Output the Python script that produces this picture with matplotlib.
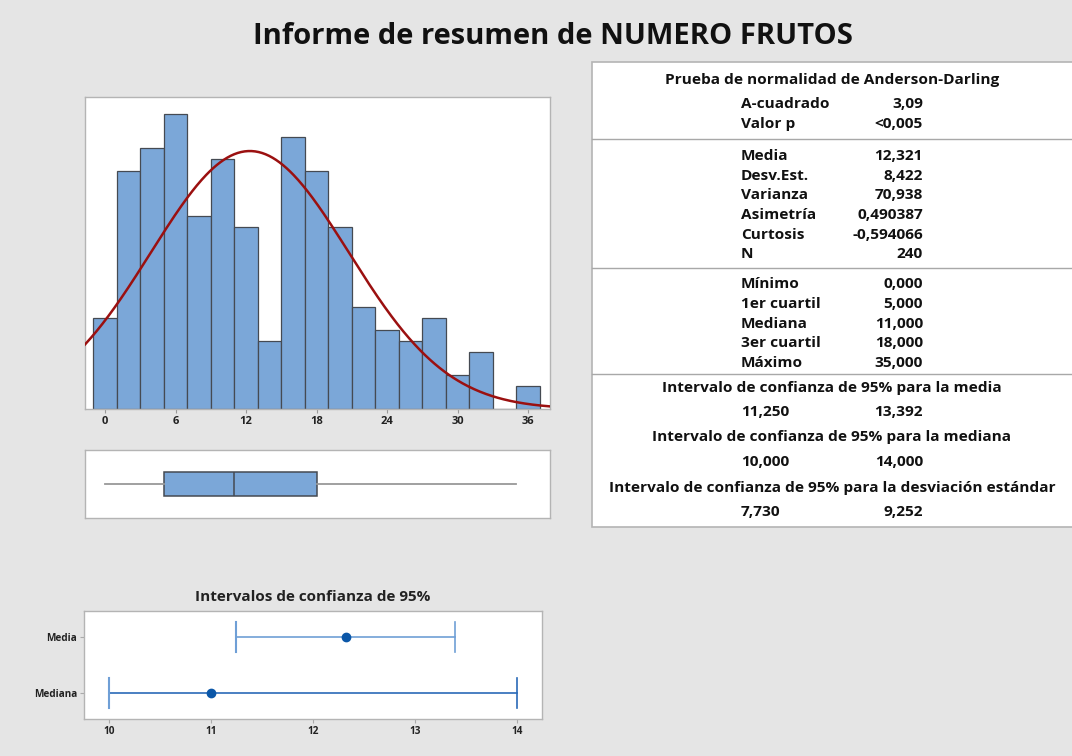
import numpy as np
import matplotlib
matplotlib.use("Agg")
import matplotlib.pyplot as plt
from matplotlib.patches import Rectangle
from matplotlib.lines import Line2D

plt.rcParams['font.family'] = ['Open Sans', 'DejaVu Sans']

# ---------------- data ----------------
bin_centers = [0, 2, 4, 6, 8, 10, 12, 14, 16, 18, 20, 22, 24, 26, 28, 30, 32, 34, 36]
bin_counts = [8, 21, 23, 26, 17, 22, 16, 6, 24, 21, 16, 9, 7, 6, 8, 3, 5, 0, 2]
bin_width = 2
hist_ticks = [0, 6, 12, 18, 24, 30, 36]

mean_val = 12.321
sd_val = 8.422
n_val = 240
box_min, box_q1, box_med, box_q3, box_max = 0.0, 5.0, 11.0, 18.0, 35.0

ci_labels = ["Media", "Mediana"]
ci_points = [12.321, 11.0]
ci_low = [11.250, 10.000]
ci_high = [13.392, 14.000]
ci_ticks = [10, 11, 12, 13, 14]

ad_rows = [("A-cuadrado", "3,09"), ("Valor p", "<0,005")]
desc_rows = [("Media", "12,321"), ("Desv.Est.", "8,422"), ("Varianza", "70,938"),
             ("Asimetría", "0,490387"), ("Curtosis", "-0,594066"), ("N", "240")]
quant_rows = [("Mínimo", "0,000"), ("1er cuartil", "5,000"), ("Mediana", "11,000"),
              ("3er cuartil", "18,000"), ("Máximo", "35,000")]
ci_sections = [("Intervalo de confianza de 95% para la media", ("11,250", "13,392")),
               ("Intervalo de confianza de 95% para la mediana", ("10,000", "14,000")),
               ("Intervalo de confianza de 95% para la desviación estándar", ("7,730", "9,252"))]

# ---------------- figure ----------------
W, H = 1072, 756
BG = "#e5e5e5"
BAR = "#7ba7d8"
EDGE = "#454a52"
FRAME = "#b4b4b4"
WT = "bold"

fig = plt.figure(figsize=(W / 100, H / 100), dpi=100, facecolor=BG)

def fx(px):
    return px / W

def fy(py):
    return 1 - py / H

def ax_rect(l, t, r, b):
    return [fx(l), fy(b), fx(r) - fx(l), fy(t) - fy(b)]

fig.text(fx(553), fy(37), "Informe de resumen de NUMERO FRUTOS", ha="center", va="center",
         fontsize=21, fontweight=WT, color="#111111")

xlim_main = (-1.7, 37.85)

# ---- histogram ----
ax = fig.add_axes(ax_rect(85, 97, 550, 409))
ax.set_facecolor("white")
ax.bar(bin_centers, bin_counts, width=bin_width, color=BAR, edgecolor=EDGE, linewidth=0.9, zorder=2)
xs = np.linspace(xlim_main[0], xlim_main[1], 400)
pdf = n_val * bin_width * np.exp(-0.5 * ((xs - mean_val) / sd_val) ** 2) / (sd_val * np.sqrt(2 * np.pi))
ax.plot(xs, pdf, color="#9b1010", linewidth=1.8, zorder=3)
ax.set_xlim(*xlim_main)
ax.set_ylim(0, 27.5)
ax.set_yticks([])
ax.set_xticks(hist_ticks)
ax.set_xticklabels([str(t) for t in hist_ticks], fontsize=8, fontweight=WT, color="#222222")
ax.tick_params(axis="x", length=3, color="#999999", pad=2)
for s in ax.spines.values():
    s.set_color(FRAME)
    s.set_linewidth(1)

# ---- boxplot ----
axb = fig.add_axes(ax_rect(85, 450, 550, 518))
axb.set_facecolor("white")
axb.bxp([{"whislo": box_min, "q1": box_q1, "med": box_med, "q3": box_q3, "whishi": box_max,
          "fliers": []}], vert=False, positions=[0], widths=0.68, patch_artist=True,
        showcaps=False,
        boxprops=dict(facecolor=BAR, edgecolor=EDGE, linewidth=1.1),
        medianprops=dict(color=EDGE, linewidth=1.1),
        whiskerprops=dict(color="#999999", linewidth=1.3))
axb.set_xlim(*xlim_main)
axb.set_ylim(-1, 1)
axb.set_xticks([])
axb.set_yticks([])
for s in axb.spines.values():
    s.set_color(FRAME)
    s.set_linewidth(1)

# ---- confidence intervals ----
axc = fig.add_axes(ax_rect(84.3, 610.7, 541.7, 719.3))
axc.set_facecolor("white")
ypos = [1, 0]
line_cols = ["#6f9fd6", "#2a6ab8"]
for y, p, lo, hi, lc in zip(ypos, ci_points, ci_low, ci_high, line_cols):
    axc.plot([lo, hi], [y, y], color=lc, linewidth=1.2, zorder=2)
    axc.plot([lo, lo], [y - 0.27, y + 0.27], color="#6f9fd6", linewidth=1.5, zorder=2)
    axc.plot([hi, hi], [y - 0.27, y + 0.27], color=lc, linewidth=1.2, zorder=2)
    axc.plot([p], [y], marker="o", markersize=6, color="#0b57a8", zorder=3)
axc.set_xlim(9.758, 14.242)
axc.set_ylim(-0.48, 1.48)
axc.set_xticks(ci_ticks)
axc.set_xticklabels([str(t) for t in ci_ticks], fontsize=7.2, fontweight=WT, color="#222222")
axc.set_yticks(ypos)
axc.set_yticklabels(ci_labels, fontsize=7.2, fontweight=WT, color="#222222")
axc.tick_params(axis="both", length=3, color="#aaaaaa", pad=2)
axc.set_title("Intervalos de confianza de 95%", fontsize=11, fontweight=WT, color="#222222", pad=7)
for s in axc.spines.values():
    s.set_color(FRAME)
    s.set_linewidth(1)

# ---- summary table ----
fig.patches.append(Rectangle((fx(592), fy(527)), fx(1080) - fx(592), fy(62) - fy(527),
                             transform=fig.transFigure, facecolor="white", edgecolor=FRAME,
                             linewidth=1.2, zorder=0))
for ly in [139, 268, 374]:
    fig.add_artist(Line2D([fx(592), fx(1080)], [fy(ly), fy(ly)], transform=fig.transFigure,
                          color="#a8a8a8", linewidth=1))

TFS = 11.1
TCOL = "#111111"
LX, RX, CX = 741, 923, 832

def row(label, val, py):
    fig.text(fx(LX), fy(py), label, ha="left", va="center", fontsize=TFS, fontweight=WT, color=TCOL)
    fig.text(fx(RX), fy(py), val, ha="right", va="center", fontsize=TFS, fontweight=WT, color=TCOL)

fig.text(fx(CX), fy(80), "Prueba de normalidad de Anderson-Darling", ha="center", va="center",
         fontsize=TFS, fontweight=WT, color=TCOL)
for (lab, v), py in zip(ad_rows, [104, 124]):
    row(lab, v, py)
for i, (lab, v) in enumerate(desc_rows):
    row(lab, v, 156 + i * 19.7)
for i, (lab, v) in enumerate(quant_rows):
    row(lab, v, 284 + i * 19.8)
for (title, (a, b)), (ty, vy) in zip(ci_sections, [(388, 412), (437, 462), (488, 512)]):
    fig.text(fx(CX), fy(ty), title, ha="center", va="center", fontsize=TFS, fontweight=WT, color=TCOL)
    row(a, b, vy)

fig.savefig("out.png", dpi=100, facecolor=BG)
